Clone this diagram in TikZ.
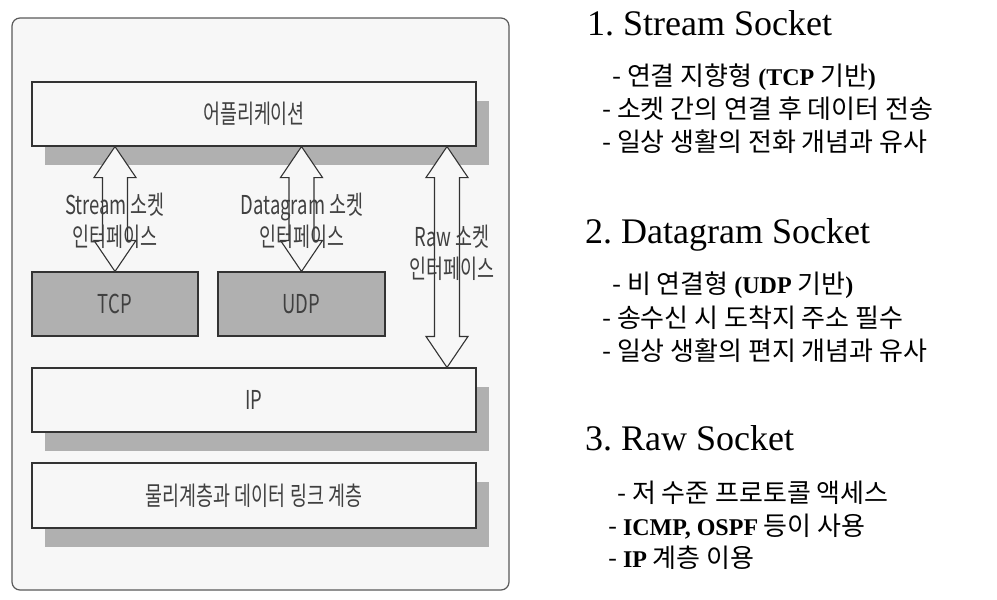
\documentclass[tikz,border=0pt]{standalone}
\usepackage{fontspec}
\setmainfont{Liberation Serif}
\newfontfamily\kr{Noto Sans CJK KR}
\newfontfamily\krc[FakeStretch=0.71]{Noto Sans CJK KR}
\usetikzlibrary{calc,shadows}
\definecolor{bgc}{HTML}{F7F7F7}
\definecolor{framec}{HTML}{5A5A5A}
\definecolor{boxc}{HTML}{333333}
\definecolor{shadc}{HTML}{B0B0B0}
\definecolor{protoc}{HTML}{B0B0B0}
\definecolor{dtext}{HTML}{404040}
\newcommand\bsr[1]{{\rmfamily\bfseries\fontsize{24}{28}\selectfont #1}}
\newcommand\dblarrow[2]{%
  \draw[arrowshape] (#1) -- ($(#1)+(21,31)$) -- ($(#1)+(12.5,31)$)
    -- ($(#2)+(12.5,-31)$) -- ($(#2)+(21,-31)$) -- (#2)
    -- ($(#2)+(-21,-31)$) -- ($(#2)+(-12.5,-31)$)
    -- ($(#1)+(-12.5,31)$) -- ($(#1)+(-21,31)$) -- cycle;}
\begin{document}
\frenchspacing
\begin{tikzpicture}[x=1pt,y=-1pt,
  frame/.style={draw=framec,line width=1.2pt,fill=bgc,rounded corners=8pt,
    minimum width=497,minimum height=572,inner sep=0pt},
  layer/.style={draw=boxc,line width=1.1pt,fill=bgc,minimum width=444,
    minimum height=64,inner sep=0pt,text=dtext,
    font=\krc\fontsize{26}{30}\selectfont,
    drop shadow={shadow xshift=12.5pt,shadow yshift=-18.5pt,fill=shadc,opacity=1,draw=none}},
  proto/.style={draw=boxc,line width=1.1pt,fill=protoc,minimum height=64,
    inner sep=0pt,text=dtext,font=\krc\fontsize{26}{30}\selectfont},
  lbl/.style={align=center,inner sep=0pt,text=dtext,
    font=\krc\fontsize{26}{32}\selectfont},
  arrowshape/.style={draw=boxc,line width=1.1pt,fill=bgc,line join=miter},
  title/.style={anchor=base west,inner sep=0pt,font=\fontsize{36}{40}\selectfont},
  item/.style={anchor=base west,inner sep=0pt,font=\kr\fontsize{26}{30}\selectfont}]
\useasboundingbox[fill=white] (0,0) rectangle (997,600);
\node[frame] (frame) at (260.5,304) {};
% layers
\node[layer] (app) at (254,114) {어플리케이션};
\node[proto,minimum width=166] (tcp) at (115,304) {TCP};
\node[proto,minimum width=167] (udp) at (301.5,304) {UDP};
\node[layer] (ip) at (254,400) {IP};
\node[layer,minimum height=65] (phy) at (254,495.5) {물리계층과 데이터 링크 계층};
% arrows
\coordinate (rawx) at (447,0);
\coordinate (a1) at (app.south -| tcp.north);
\coordinate (a2) at (app.south -| udp.north);
\coordinate (a3) at (app.south -| rawx);
\coordinate (b3) at (ip.north -| rawx);
\dblarrow{a1}{tcp.north}
\dblarrow{a2}{udp.north}
\dblarrow{a3}{b3}
% labels
\node[lbl] (lstream) at (115,221) {Stream 소켓\\인터페이스};
\node[lbl] (ldgram) at (302,221) {Datagram 소켓\\인터페이스};
\node[lbl] (lraw) at (452,253) {Raw 소켓\\인터페이스};
% right side
\node[title] (t1) at (587,35) {1. Stream Socket};
\node[item] (t1a) at (612,85) {- 연결 지향형 \bsr{(TCP} 기반\bsr{)}};
\node[item] (t1b) at (602,118) {- 소켓 간의 연결 후 데이터 전송};
\node[item] (t1c) at (602,151) {- 일상 생활의 전화 개념과 유사};
\node[title] (t2) at (585,243) {2. Datagram Socket};
\node[item] (t2a) at (612,293) {- 비 연결형 \bsr{(UDP} 기반\bsr{)}};
\node[item] (t2b) at (602,327) {- 송수신 시 도착지 주소 필수};
\node[item] (t2c) at (602,360) {- 일상 생활의 편지 개념과 유사};
\node[title] (t3) at (585,450) {3. Raw Socket};
\node[item] (t3a) at (617,502) {- 저 수준 프로토콜 액세스};
\node[item] (t3b) at (608,535) {- \bsr{ICMP, OSPF} 등이 사용};
\node[item] (t3c) at (608,567) {- \bsr{IP} 계층 이용};
\end{tikzpicture}
\end{document}
